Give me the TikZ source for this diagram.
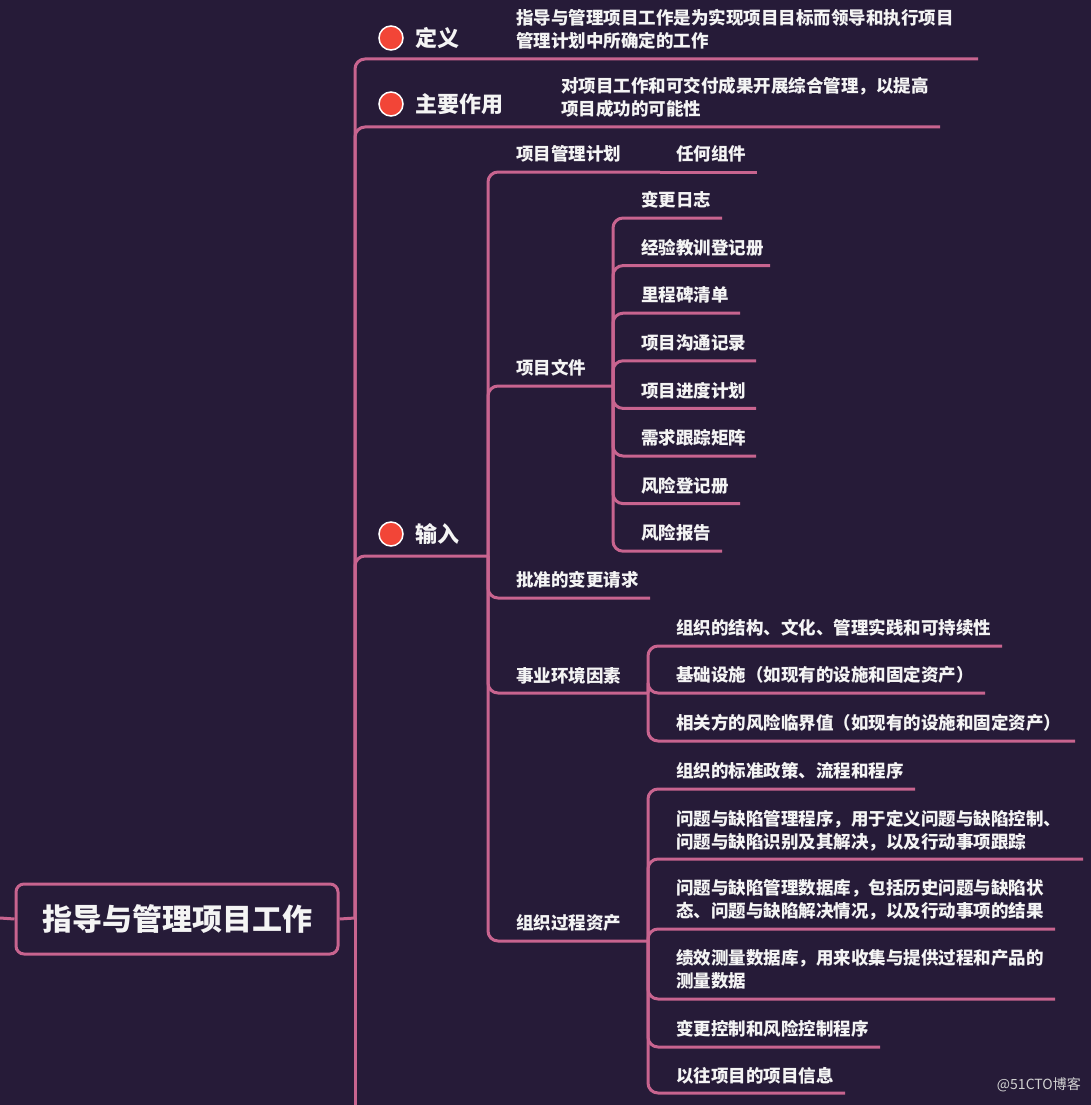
\documentclass[tikz,border=0pt]{standalone}
\usepackage{fontspec}
\setmainfont{Noto Sans CJK SC}
\usetikzlibrary{positioning,calc}
\definecolor{bg}{HTML}{261B38}
\definecolor{linkpink}{HTML}{C8648F}
\definecolor{dotred}{HTML}{F24537}
\definecolor{txt}{HTML}{F4F4F4}
\definecolor{mark}{HTML}{D2D2D2}
\tikzstyle{branch} = [draw=linkpink, line width=3pt, rounded corners=10pt]
\tikzstyle{leaf} = [anchor=west, inner sep=0pt, text=txt, align=left, font=\bfseries\fontsize{17.5}{23}\selectfont]
\tikzstyle{topic} = [anchor=west, inner sep=0pt, text=txt, font=\bfseries\fontsize{22}{26}\selectfont]
\tikzstyle{dot} = [circle, fill=dotred, draw=white, line width=1.5pt, minimum size=24pt, inner sep=0pt]
\tikzstyle{rootbox} = [draw=linkpink, fill=bg, line width=3pt, rounded corners=8pt, minimum width=322pt, minimum height=70pt, text=txt, font=\bfseries\fontsize{30}{34}\selectfont]

\begin{document}
\begin{tikzpicture}[x=1pt, y=-1pt]
    % Background
    \fill [bg] (0,0) rectangle (1091,1105);
    \useasboundingbox (0,0) rectangle (1091,1105);

    % Root
    \coordinate (inlet) at (0,918);
    \coordinate (rootJ) at (355,918);
    \coordinate (trunkEnd) at (355,1115);
    \draw [branch] (rootJ) -- (trunkEnd);

    % Main topics
    \node [dot] (defDot) at (391,38) {};
    \node [topic, right=12pt of defDot] (def) {定义};
    \node [leaf] (defText) at (516,29.5) {指导与管理项目工作是为实现项目目标而领导和执行项目\\管理计划中所确定的工作};
    \coordinate (defE) at (978,59);
    \draw [branch] (rootJ) |- (defE);

    \node [dot] (roleDot) at (391,104) {};
    \node [topic, right=12pt of roleDot] (role) {主要作用};
    \node [leaf] (roleText) at (561,97) {对项目工作和可交付成果开展综合管理，以提高\\项目成功的可能性};
    \coordinate (roleE) at (940,127);
    \draw [branch] (rootJ) |- (roleE);

    \node [dot] (inDot) at (391,534) {};
    \node [topic, right=12pt of inDot] (in) {输入};
    \coordinate (inJ) at (488,556);
    \draw [branch] (rootJ) |- (inJ);

    % Inputs
    \node [leaf] (pmp) at (516,154) {项目管理计划};
    \coordinate (pmpJ) at (660,172);
    \draw [branch] (inJ) |- (pmpJ);
    \node [leaf] (anyPart) at (676,154) {任何组件};
    \coordinate (anyPartE) at (757,172);
    \draw [branch] (pmpJ) -- (anyPartE);

    \node [leaf] (docs) at (516,368) {项目文件};
    \coordinate (docsJ) at (613,386);
    \draw [branch] (inJ) |- (docsJ);
    \foreach \lab/\xe [count=\i] in {变更日志/722, 经验教训登记册/770, 里程碑清单/740,
        项目沟通记录/756, 项目进度计划/756, 需求跟踪矩阵/756, 风险登记册/740, 风险报告/722} {
        \pgfmathsetmacro{\yu}{218+47.6*(\i-1)}
        \node [leaf] (doc\i) at (641,\yu-18) {\lab};
        \coordinate (doc\i E) at (\xe,\yu);
        \draw [branch] (docsJ) |- (doc\i E);
    }

    \node [leaf] (acr) at (516,580) {批准的变更请求};
    \coordinate (acrE) at (650,598);
    \draw [branch] (inJ) |- (acrE);

    \node [leaf] (eef) at (516,676) {事业环境因素};
    \coordinate (eefJ) at (648,693);
    \draw [branch] (inJ) |- (eefJ);
    \node [leaf] (eef1) at (676,628) {组织的结构、文化、管理实践和可持续性};
    \node [leaf] (eef2) at (676,675) {基础设施（如现有的设施和固定资产）};
    \node [leaf] (eef3) at (676,723) {相关方的风险临界值（如现有的设施和固定资产）};
    \coordinate (eef1E) at (1002,646);
    \coordinate (eef2E) at (985,693);
    \coordinate (eef3E) at (1075,741);
    \foreach \i in {1,2,3}
        \draw [branch] (eefJ) |- (eef\i E);

    \node [leaf] (opa) at (516,923) {组织过程资产};
    \coordinate (opaJ) at (648,941);
    \draw [branch] (inJ) |- (opaJ);
    \node [leaf] (opa1) at (676,771) {组织的标准政策、流程和程序};
    \node [leaf] (opa2) at (676,830.5) {问题与缺陷管理程序，用于定义问题与缺陷控制、\\问题与缺陷识别及其解决，以及行动事项跟踪};
    \node [leaf] (opa3) at (676,899.5) {问题与缺陷管理数据库，包括历史问题与缺陷状\\态、问题与缺陷解决情况，以及行动事项的结果};
    \node [leaf] (opa4) at (676,969.5) {绩效测量数据库，用来收集与提供过程和产品的\\测量数据};
    \node [leaf] (opa5) at (676,1029) {变更控制和风险控制程序};
    \node [leaf] (opa6) at (676,1076) {以往项目的项目信息};
    \coordinate (opa1E) at (915,789);
    \coordinate (opa2E) at (1083,859);
    \coordinate (opa3E) at (1055,929);
    \coordinate (opa4E) at (1055,999);
    \coordinate (opa5E) at (880,1047);
    \coordinate (opa6E) at (845,1093);
    \foreach \i in {1,...,6}
        \draw [branch] (opaJ) |- (opa\i E);

    % Root box on top
    \node [rootbox] (root) at (177,919) {指导与管理项目工作};
    \draw [branch] (inlet) -- (root.west);
    \draw [branch] (root.east) -- (rootJ);

    % Watermark
    \node [anchor=east, inner sep=0pt, text=mark, font=\fontsize{14}{16}\selectfont] (mark) at (1081,1085) {@51CTO博客};
\end{tikzpicture}
\end{document}
